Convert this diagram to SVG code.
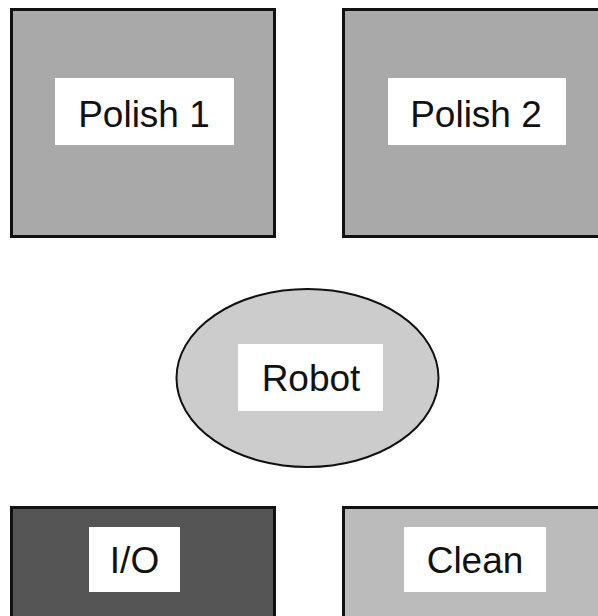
<svg xmlns="http://www.w3.org/2000/svg" width="598" height="616" viewBox="0 0 598 616">
  <style>
    .box { stroke: #111; stroke-width: 3; }
    .tag { fill: #ffffff; }
    .lbl { font-family: "Liberation Sans", Arial, sans-serif; font-size: 37px; fill: #111; text-anchor: middle; }
  </style>
  <rect width="598" height="616" fill="#ffffff"/>

  <g id="polish1">
    <rect class="box" x="11.5" y="9.5" width="263" height="227" fill="#a9a9a9"/>
    <rect class="tag" x="55" y="78" width="179" height="67"/>
    <text class="lbl" x="144" y="127">Polish 1</text>
  </g>

  <g id="polish2">
    <rect class="box" x="343.5" y="9.5" width="263" height="227" fill="#a9a9a9"/>
    <rect class="tag" x="388" y="78" width="178" height="67"/>
    <text class="lbl" x="476" y="127">Polish 2</text>
  </g>

  <g id="robot">
    <ellipse cx="307.5" cy="378" rx="131" ry="89" fill="#cccccc" stroke="#111" stroke-width="2"/>
    <rect class="tag" x="238" y="344" width="145" height="67"/>
    <text class="lbl" x="311" y="391">Robot</text>
  </g>

  <g id="io">
    <rect class="box" x="11.5" y="507.5" width="263" height="120" fill="#555555"/>
    <rect class="tag" x="89" y="527" width="91" height="65"/>
    <text class="lbl" x="134.5" y="573">I/O</text>
  </g>

  <g id="clean">
    <rect class="box" x="343.5" y="507.5" width="263" height="120" fill="#bbbbbb"/>
    <rect class="tag" x="404" y="527" width="142" height="65"/>
    <text class="lbl" x="475" y="573">Clean</text>
  </g>

  <g id="connectors"/>
</svg>
